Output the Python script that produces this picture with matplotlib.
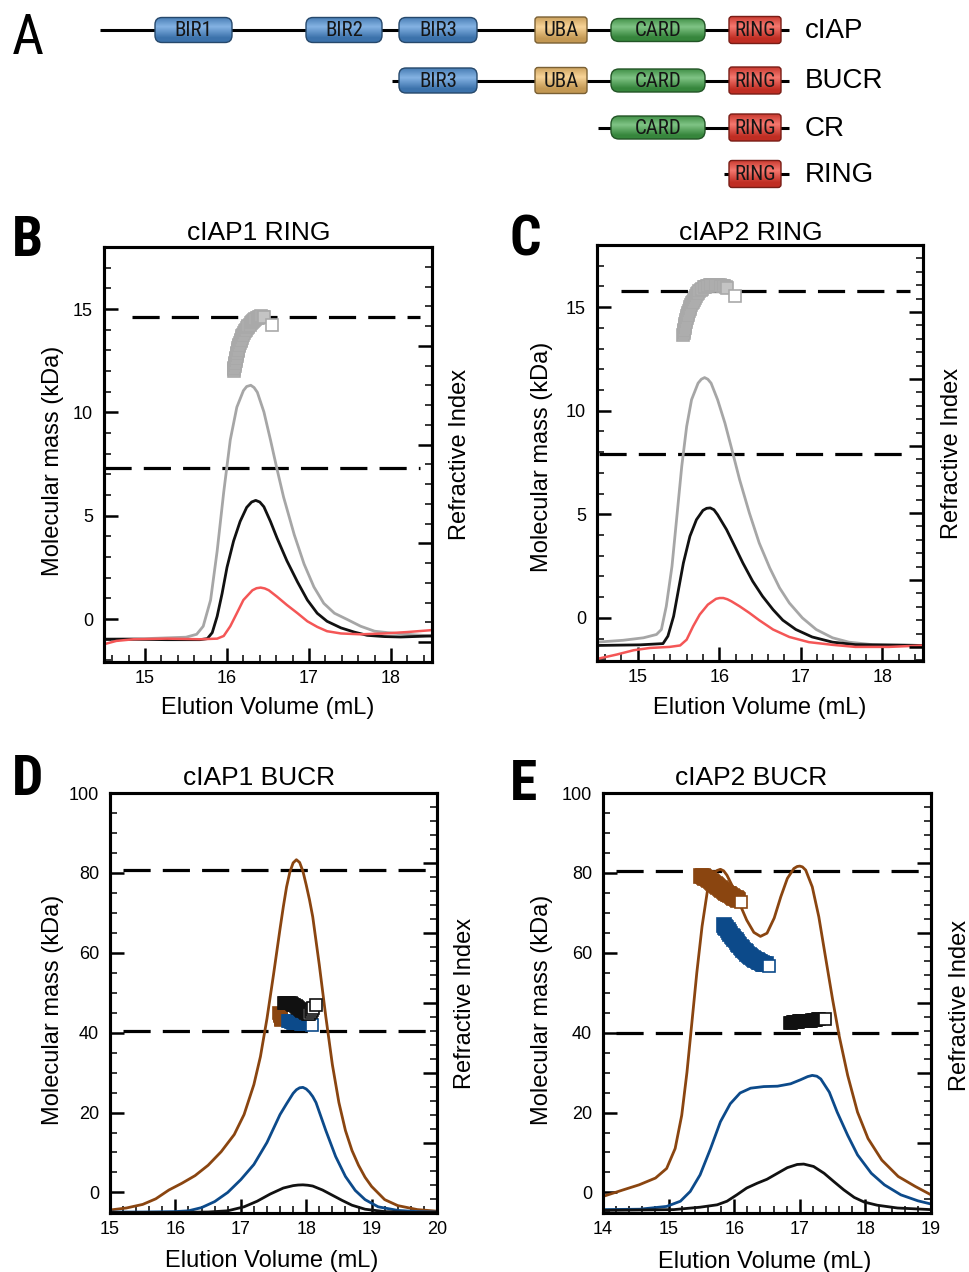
import os
import numpy as np
import matplotlib
matplotlib.use('Agg')
import matplotlib.pyplot as plt
from matplotlib.patches import FancyBboxPatch
from matplotlib.ticker import MultipleLocator
from matplotlib import font_manager as fm
from matplotlib.font_manager import FontProperties

# ---------------------------------------------------------------- data
# Panel A: domain architecture (schematic units along the chain)
constructs = ['cIAP', 'BUCR', 'CR', 'RING']
construct_start = [100, 392, 598, 724]
construct_end = 789
domain_names = ['BIR1', 'BIR2', 'BIR3', 'UBA', 'CARD', 'RING']
domain_start = [155, 306, 399, 535, 611, 729]
domain_end = [232, 382, 477, 587, 705, 781]
domain_in_construct = [[1, 1, 1, 1, 1, 1],
                       [0, 0, 1, 1, 1, 1],
                       [0, 0, 0, 0, 1, 1],
                       [0, 0, 0, 0, 0, 1]]

# Panel B: cIAP1 RING
B_gray_x = [14.5, 15.0, 15.5, 15.63, 15.71, 15.80, 15.88, 15.96, 16.04, 16.12, 16.20, 16.24, 16.29,
            16.33, 16.37, 16.45, 16.53, 16.61, 16.69, 16.82, 16.94, 17.06, 17.18, 17.31, 17.47,
            17.63, 17.80, 17.96, 18.20, 18.49]
B_gray_y = [-0.97, -0.95, -0.88, -0.74, -0.35, 0.92, 3.29, 6.14, 8.67, 10.25, 11.05, 11.25, 11.31,
            11.20, 10.97, 10.02, 8.67, 7.25, 5.90, 4.08, 2.66, 1.55, 0.76, 0.28, -0.03,
            -0.35, -0.59, -0.66, -0.74, -0.82]
B_black_x = [14.5, 14.86, 15.27, 15.67, 15.76, 15.82, 15.88, 15.94, 16.00, 16.08, 16.16, 16.24, 16.30,
             16.35, 16.40, 16.45, 16.53, 16.61, 16.73, 16.86, 16.98, 17.10, 17.22, 17.39, 17.55,
             17.71, 17.92, 18.12, 18.49]
B_black_y = [-0.98, -0.98, -1.0, -1.0, -0.95, -0.66, 0.13, 1.23, 2.50, 3.77, 4.72, 5.40, 5.66,
             5.74, 5.66, 5.43, 4.72, 3.92, 2.82, 1.79, 0.92, 0.28, -0.11, -0.43, -0.63,
             -0.79, -0.85, -0.87, -0.82]
B_red_x = [14.5, 14.65, 14.86, 15.27, 15.67, 15.88, 15.96, 16.04, 16.12, 16.20, 16.31, 16.36, 16.41,
           16.46, 16.51, 16.61, 16.73, 16.86, 16.98, 17.10, 17.22, 17.39, 17.63, 17.92, 18.20, 18.49]
B_red_y = [-1.22, -1.06, -0.98, -0.95, -0.98, -0.95, -0.82, -0.35, 0.28, 0.92, 1.39, 1.49, 1.52,
           1.48, 1.39, 1.08, 0.68, 0.28, -0.11, -0.38, -0.59, -0.70, -0.74, -0.70, -0.63, -0.54]
B_mass_x = [16.080, 16.085, 16.090, 16.095, 16.100, 16.103, 16.106, 16.110, 16.114, 16.118, 16.122,
            16.126, 16.130, 16.135, 16.140, 16.146, 16.152, 16.158, 16.165, 16.172, 16.180, 16.188,
            16.197, 16.206, 16.216, 16.227, 16.238, 16.250, 16.262, 16.275, 16.288, 16.302, 16.316,
            16.330, 16.345, 16.360, 16.375, 16.390, 16.405, 16.420, 16.435, 16.450]
B_mass_y = [12.00, 12.08, 12.16, 12.24, 12.32, 12.40, 12.48, 12.56, 12.64, 12.72, 12.80,
            12.88, 12.96, 13.04, 13.12, 13.20, 13.28, 13.36, 13.44, 13.52, 13.60, 13.68,
            13.76, 13.84, 13.92, 13.99, 14.06, 14.13, 14.19, 14.25, 14.31, 14.37, 14.42,
            14.47, 14.51, 14.55, 14.58, 14.61, 14.63, 14.64, 14.63, 14.61]
B_mass_end = (16.55, 14.24)
B_expected = [14.6, 7.3]

# Panel C: cIAP2 RING
C_gray_x = [14.5, 14.82, 15.07, 15.23, 15.29, 15.35, 15.42, 15.48, 15.54, 15.60, 15.66, 15.74, 15.78,
            15.82, 15.86, 15.90, 15.98, 16.07, 16.15, 16.25, 16.37, 16.49, 16.62, 16.74, 16.86,
            17.02, 17.19, 17.39, 17.59, 17.88, 18.5]
C_gray_y = [-1.17, -1.08, -0.96, -0.80, -0.56, 0.56, 2.49, 4.90, 7.32, 9.24, 10.53, 11.33, 11.52,
            11.60, 11.52, 11.33, 10.53, 9.40, 8.20, 6.67, 5.06, 3.62, 2.41, 1.45, 0.72,
            0.0, -0.56, -0.96, -1.17, -1.29, -1.33]
C_black_x = [14.5, 15.03, 15.31, 15.37, 15.44, 15.50, 15.56, 15.64, 15.72, 15.80, 15.845, 15.89,
             15.935, 15.98, 16.09, 16.19, 16.29, 16.41, 16.53, 16.66, 16.78, 16.94, 17.14, 17.39,
             17.67, 18.5]
C_black_y = [-1.33, -1.30, -1.24, -0.88, 0.08, 1.37, 2.65, 3.94, 4.74, 5.19, 5.29, 5.31,
             5.22, 4.98, 4.26, 3.46, 2.65, 1.77, 1.05, 0.40, -0.11, -0.56, -0.92, -1.17,
             -1.29, -1.33]
C_red_x = [14.5, 14.74, 14.95, 15.15, 15.39, 15.52, 15.60, 15.68, 15.76, 15.86, 15.96, 16.005, 16.05,
           16.10, 16.15, 16.25, 16.37, 16.49, 16.66, 16.86, 17.10, 17.39, 17.67, 18.08, 18.5]
C_red_y = [-1.98, -1.77, -1.56, -1.45, -1.40, -1.33, -1.05, -0.40, 0.16, 0.64, 0.92, 0.96, 0.96,
           0.90, 0.80, 0.56, 0.24, -0.11, -0.56, -0.92, -1.17, -1.30, -1.40, -1.40, -1.33]
C_mass_x = [15.560, 15.563, 15.566, 15.570, 15.574, 15.578, 15.583, 15.588, 15.594, 15.600, 15.606,
            15.613, 15.620, 15.628, 15.636, 15.645, 15.654, 15.664, 15.675, 15.686, 15.698, 15.711,
            15.725, 15.740, 15.756, 15.773, 15.790, 15.808, 15.826, 15.845, 15.864, 15.884, 15.904,
            15.924, 15.944, 15.964, 15.984, 16.004, 16.024, 16.044, 16.064, 16.082, 16.100]
C_mass_y = [13.65, 13.74, 13.83, 13.92, 14.01, 14.10, 14.19, 14.28, 14.37, 14.46, 14.55,
            14.64, 14.73, 14.82, 14.91, 15.00, 15.09, 15.18, 15.27, 15.36, 15.45, 15.54,
            15.62, 15.70, 15.77, 15.84, 15.90, 15.95, 15.99, 16.02, 16.04, 16.05, 16.06,
            16.06, 16.06, 16.06, 16.06, 16.05, 16.04, 16.03, 16.01, 15.98, 15.94]
C_mass_end = (16.19, 15.56)
C_expected = [15.8, 7.9]

# Panel D: cIAP1 BUCR
D_brown_x = [15.0, 15.25, 15.5, 15.7, 15.9, 16.1, 16.3, 16.5, 16.7, 16.9, 17.05, 17.2, 17.3, 17.4,
             17.5, 17.6, 17.65, 17.7, 17.75, 17.8, 17.85, 17.9, 17.95, 18.0, 18.05, 18.1, 18.2,
             18.3, 18.4, 18.5, 18.6, 18.7, 18.8, 18.9, 19.0, 19.2, 19.4, 19.7, 20.0]
D_brown_y = [-4.4, -3.9, -3.0, -1.6, 0.6, 2.3, 4.2, 6.8, 10.2, 14.5, 19.5, 27.0, 34.0, 43.5,
             54.5, 66.0, 71.5, 76.5, 80.2, 82.5, 83.3, 82.6, 80.4, 77.0, 73.3, 69.0, 57.0,
             44.0, 32.0, 22.5, 15.5, 10.5, 6.8, 3.8, 1.5, -1.8, -3.3, -4.3, -4.7]
D_blue_x = [15.0, 15.5, 16.0, 16.2, 16.4, 16.6, 16.8, 17.0, 17.2, 17.4, 17.6, 17.7, 17.75, 17.8,
            17.85, 17.9, 17.95, 18.0, 18.05, 18.1, 18.15, 18.3, 18.45, 18.6, 18.75, 18.9, 19.1,
            19.4, 19.7, 20.0]
D_blue_y = [-4.9, -4.9, -4.8, -4.6, -3.8, -2.3, 0.0, 3.2, 7.0, 12.5, 19.5, 22.2, 23.5, 24.8,
            25.7, 26.2, 26.3, 25.9, 25.1, 24.0, 22.5, 15.5, 9.0, 4.0, 0.5, -1.8, -3.6,
            -4.5, -4.8, -4.9]
D_black_x = [15.0, 16.0, 16.5, 16.8, 17.05, 17.25, 17.45, 17.65, 17.8, 17.875, 17.95, 18.025, 18.1,
             18.25, 18.4, 18.55, 18.7, 18.9, 19.2, 19.6, 20.0]
D_black_y = [-5.0, -5.0, -4.9, -4.6, -3.6, -2.2, -0.4, 1.1, 1.7, 1.85, 1.9, 1.8, 1.6,
             0.6, -0.7, -2.0, -3.2, -4.2, -4.8, -5.0, -5.0]
D_mass_brown_x = [17.59, 17.595, 17.60, 17.605, 17.61, 17.615, 17.62]
D_mass_brown_y = [45.0, 44.7, 44.4, 44.1, 43.8, 43.5, 43.2]
D_mass_blue_x = [17.72, 17.74, 17.76, 17.78, 17.80, 17.82, 17.84, 17.86, 17.88, 17.90, 17.92,
                 17.94, 17.96, 17.98, 18.00]
D_mass_blue_y = [42.9, 42.8, 42.7, 42.6, 42.5, 42.4, 42.4, 42.3, 42.3, 42.3, 42.2,
                 42.2, 42.2, 42.2, 42.1]
D_mass_blue_end = (18.09, 42.0)
D_mass_black_x = [17.66, 17.68, 17.70, 17.72, 17.74, 17.76, 17.78, 17.80, 17.82, 17.84, 17.86,
                  17.88, 17.90, 17.92, 17.94, 17.96, 17.98, 18.00, 18.02]
D_mass_black_y = [47.3, 47.4, 47.5, 47.5, 47.4, 47.3, 47.1, 47.0, 46.8, 46.6, 46.4,
                  46.2, 46.0, 45.7, 45.5, 45.3, 45.1, 44.9, 44.7]
D_mass_black_open_x = [18.05, 18.07, 18.09, 18.11]
D_mass_black_open_y = [44.6, 45.1, 45.6, 46.1]
D_mass_black_end = (18.15, 46.9)
D_expected = [80.6, 40.3]

# Panel E: cIAP2 BUCR
E_brown_x = [14.0, 14.3, 14.55, 14.8, 14.97, 15.1, 15.2, 15.28, 15.35, 15.43, 15.51, 15.59, 15.69,
             15.74, 15.79, 15.84, 15.89, 15.99, 16.09, 16.19, 16.3, 16.4, 16.5, 16.61, 16.71,
             16.81, 16.91, 16.96, 17.0, 17.04, 17.09, 17.19, 17.29, 17.39, 17.5, 17.6, 17.73,
             17.88, 18.04, 18.25, 18.5, 18.76, 19.0]
E_brown_y = [-1.0, 0.6, 1.9, 3.6, 6.0, 11.0, 19.3, 30.1, 41.7, 55.0, 66.6, 75.3, 79.9,
             80.6, 80.9, 80.5, 79.4, 76.1, 72.0, 68.2, 65.1, 64.1, 64.9, 68.7, 74.0,
             78.6, 81.1, 81.6, 81.7, 81.5, 80.7, 76.5, 69.0, 59.1, 48.3, 39.2, 29.3,
             20.1, 13.5, 8.1, 4.0, 1.5, -0.6]
E_blue_x = [14.0, 14.56, 14.97, 15.18, 15.33, 15.48, 15.64, 15.79, 15.94, 16.09, 16.25, 16.45, 16.66,
            16.86, 17.01, 17.12, 17.19, 17.26, 17.32, 17.45, 17.57, 17.73, 17.88, 18.09, 18.29,
            18.54, 18.80, 19.0]
E_blue_y = [-4.3, -4.2, -3.5, -2.2, 0.25, 4.4, 11.0, 17.7, 22.2, 24.9, 26.1, 26.5, 26.6,
            27.2, 28.2, 29.0, 29.3, 29.1, 28.4, 25.1, 20.1, 14.3, 9.4, 4.8, 1.9,
            -0.6, -2.1, -2.9]
E_black_x = [14.0, 15.08, 15.48, 15.74, 15.89, 16.04, 16.19, 16.35, 16.50, 16.66, 16.81, 16.96,
             17.06, 17.21, 17.37, 17.52, 17.67, 17.83, 17.98, 18.18, 18.49, 19.0]
E_black_y = [-4.5, -4.3, -3.7, -3.1, -2.2, -0.6, 1.1, 2.3, 3.3, 4.8, 6.2, 7.0,
             7.1, 6.5, 4.8, 2.7, 0.65, -1.25, -2.4, -3.2, -3.9, -4.3]
E_mass_brown_x = [15.50, 15.52, 15.54, 15.56, 15.58, 15.60, 15.62, 15.64, 15.66, 15.68, 15.70,
                  15.72, 15.74, 15.76, 15.78, 15.80, 15.82, 15.84, 15.86, 15.88, 15.90, 15.92,
                  15.94, 15.96, 15.98, 16.00, 16.02, 16.04, 16.06]
E_mass_brown_y = [79.3, 79.2, 79.0, 78.8, 78.6, 78.4, 78.2, 78.0, 77.7, 77.5, 77.2,
                  77.0, 76.7, 76.5, 76.2, 76.0, 75.7, 75.5, 75.2, 75.0, 74.8, 74.6,
                  74.4, 74.2, 74.0, 73.8, 73.6, 73.4, 73.3]
E_mass_brown_end = (16.11, 72.6)
E_mass_blue_x = [15.84, 15.86, 15.88, 15.90, 15.92, 15.94, 15.96, 15.98, 16.00, 16.02, 16.04,
                 16.06, 16.08, 16.10, 16.12, 16.14, 16.16, 16.18, 16.20, 16.22, 16.24, 16.26,
                 16.28, 16.30, 16.32, 16.34, 16.36, 16.38, 16.40, 16.42, 16.44, 16.46, 16.48]
E_mass_blue_y = [67.0, 66.5, 66.1, 65.6, 65.1, 64.7, 64.3, 63.9, 63.5, 63.1, 62.7,
                 62.3, 61.9, 61.5, 61.1, 60.7, 60.4, 60.1, 59.8, 59.5, 59.3, 59.0,
                 58.8, 58.5, 58.3, 58.1, 57.9, 57.7, 57.6, 57.4, 57.3, 57.2, 57.1]
E_mass_blue_end = (16.53, 56.8)
E_mass_black_x = [16.85, 16.87, 16.89, 16.91, 16.93, 16.95, 16.97, 16.99, 17.01, 17.03, 17.05,
                  17.07, 17.09, 17.11, 17.13, 17.15, 17.17, 17.19, 17.21, 17.23, 17.25, 17.27, 17.29]
E_mass_black_y = [42.5, 42.5, 42.6, 42.6, 42.6, 42.7, 42.7, 42.8, 42.8, 42.8, 42.8,
                  42.9, 42.9, 43.0, 43.0, 43.0, 43.0, 43.1, 43.1, 43.2, 43.2, 43.3, 43.3]
E_mass_black_end = (17.38, 43.3)
E_expected = [80.5, 40.0]

# ---------------------------------------------------------------- figure
W, H = 969, 1272
plt.rcParams['font.family'] = ['Liberation Sans', 'DejaVu Sans']
fig = plt.figure(figsize=(W / 100, H / 100), dpi=100)


def fx(x):
    return x / W


def fy(y):
    return 1 - y / H


_files = {os.path.basename(f.fname): f.fname for f in fm.fontManager.ttflist}


def cond_font(bold, size):
    names = (['LiberationSansNarrow-Bold.ttf', 'RobotoCondensed-Bold.ttf',
              'DejaVuSansCondensed-Bold.ttf', 'NotoSans-CondensedBold.ttf']
             if bold else
             ['LiberationSansNarrow-Regular.ttf', 'RobotoCondensed-Regular.ttf',
              'DejaVuSansCondensed.ttf', 'NotoSans-Condensed.ttf'])
    for n in names:
        if n in _files:
            fp = FontProperties(fname=_files[n])
            fp.set_size(size)
            return fp
    return FontProperties(family='Liberation Sans', weight='bold' if bold else 'normal', size=size * 0.85)


# ---------------- Panel A
axA = fig.add_axes([0, fy(200), 1, 200 / H])
axA.set_xlim(0, W)
axA.set_ylim(200, 0)
axA.axis('off')

row_y = [30, 80.5, 127.5, 174]
dom_color = {'BIR': '#4b8fd6', 'UBA': '#f4bf68', 'CARD': '#44a84c', 'RING': '#f0392c'}
dom_h = {'BIR': 25, 'UBA': 26, 'CARD': 23, 'RING': 27}
dom_r = {'BIR': 7, 'UBA': 3, 'CARD': 8, 'RING': 3}
fp_dom = cond_font(False, 15)
t = np.linspace(0, 1, 80)
hi = np.clip(1 - np.abs(t - 0.38) / 0.45, 0, 1)

for ci, cname in enumerate(constructs):
    yc = row_y[ci]
    axA.plot([construct_start[ci], construct_end], [yc, yc], color='black', lw=2.2, zorder=1,
             solid_capstyle='butt')
    for di, dname in enumerate(domain_names):
        if not domain_in_construct[ci][di]:
            continue
        key = dname.rstrip('123')
        base = np.array(matplotlib.colors.to_rgb(dom_color[key]))
        h = dom_h[key]
        x0, x1 = domain_start[di], domain_end[di]
        patch = FancyBboxPatch((x0, yc - h / 2), x1 - x0, h,
                               boxstyle='round,pad=0,rounding_size=%g' % dom_r[key],
                               facecolor='none', edgecolor=base * 0.5, lw=1.0, zorder=3)
        axA.add_patch(patch)
        grad = base[None, :] * (0.80 + 0.20 * hi[:, None]) + (1 - base[None, :]) * 0.32 * hi[:, None]
        im = axA.imshow(np.clip(grad, 0, 1)[:, None, :], extent=(x0, x1, yc + h / 2, yc - h / 2),
                        aspect='auto', interpolation='bilinear', zorder=2)
        im.set_clip_path(patch)
        axA.text((x0 + x1) / 2, yc + 1, dname, ha='center', va='center', fontproperties=fp_dom,
                 color='#151515', zorder=4)
    axA.text(805, yc + 8, cname, ha='left', va='baseline', fontsize=20)

fig.text(fx(12), fy(54), 'A', fontproperties=cond_font(False, 40), ha='left', va='baseline')


# ---------------- chart panels
def make_panel(rect, xlim, ylim, xmaj, ymaj, ymin, twin_lim):
    ax = fig.add_axes(rect)
    ax.set_xlim(*xlim)
    ax.set_ylim(*ylim)
    ax.xaxis.set_major_locator(MultipleLocator(xmaj))
    ax.xaxis.set_minor_locator(MultipleLocator(0.2))
    ax.yaxis.set_major_locator(MultipleLocator(ymaj))
    ax.yaxis.set_minor_locator(MultipleLocator(ymin))
    ax.tick_params(which='both', direction='in', top=False, right=False, labelsize=13, colors='black')
    ax.tick_params(which='major', length=10, width=1.8)
    ax.tick_params(which='minor', length=5, width=1.1)
    ax.tick_params(axis='y', pad=8)
    ax.tick_params(axis='x', pad=6)
    for s in ax.spines.values():
        s.set_linewidth(2.2)
    ax2 = ax.twinx()
    ax2.set_ylim(*twin_lim)
    ax2.yaxis.set_major_locator(MultipleLocator(1))
    ax2.yaxis.set_minor_locator(MultipleLocator(0.2))
    ax2.tick_params(which='both', direction='in', labelright=False)
    ax2.tick_params(which='major', length=10, width=1.8)
    ax2.tick_params(which='minor', length=5, width=1.1)
    for s in ax2.spines.values():
        s.set_linewidth(2.2)
    return ax


def expected_lines(ax, vals, starts, end):
    for v, s in zip(vals, starts):
        ax.plot([s, end], [v, v], color='black', lw=2.3, ls=(0, (8.5, 3.8)), zorder=2,
                solid_capstyle='butt', dash_capstyle='butt')


def mass_points(ax, xs, ys, color, face, ms=8.5, z=5, mew=1.2):
    ax.plot(xs, ys, ls='none', marker='s', ms=ms, mfc=face, mec=color, mew=mew, zorder=z)


GRAY, RED, BLACK = '#a6a6a6', '#f45656', '#111111'
BROWN, BLUE = '#8a4510', '#0c4a8a'

# B
axB = make_panel([fx(104), fy(662), 328 / W, 415 / H], (14.5, 18.5), (-2.08, 18.0), 1, 5, 1, (-0.2, 4.0))
expected_lines(axB, B_expected, [14.84, 14.5], 18.35)
axB.plot(B_gray_x, B_gray_y, color=GRAY, lw=2.0, zorder=3)
axB.plot(B_black_x, B_black_y, color=BLACK, lw=2.0, zorder=3)
axB.plot(B_red_x, B_red_y, color=RED, lw=1.8, zorder=3)
mass_points(axB, B_mass_x, B_mass_y, '#a9a9a9', '#c4c4c4', ms=8)
mass_points(axB, [B_mass_end[0]], [B_mass_end[1]], '#a9a9a9', 'white', ms=8)

# C
axC = make_panel([fx(597), fy(661), 326 / W, 416 / H], (14.5, 18.5), (-2.08, 18.0), 1, 5, 1, (-0.21, 6.0))
expected_lines(axC, C_expected, [14.8, 14.53], 18.34)
axC.plot(C_gray_x, C_gray_y, color=GRAY, lw=2.0, zorder=3)
axC.plot(C_black_x, C_black_y, color=BLACK, lw=2.0, zorder=3)
axC.plot(C_red_x, C_red_y, color=RED, lw=1.8, zorder=3)
mass_points(axC, C_mass_x, C_mass_y, '#a9a9a9', '#c4c4c4', ms=8)
mass_points(axC, [C_mass_end[0]], [C_mass_end[1]], '#a9a9a9', 'white', ms=8)

# D
axD = make_panel([fx(110), fy(1213), 327 / W, 420 / H], (15, 20), (-5.15, 100), 1, 20, 5, (0, 6))
expected_lines(axD, D_expected, [15.2, 15.2], 20.0)
axD.plot(D_brown_x, D_brown_y, color=BROWN, lw=2.0, zorder=3)
axD.plot(D_blue_x, D_blue_y, color=BLUE, lw=2.0, zorder=3)
axD.plot(D_black_x, D_black_y, color=BLACK, lw=2.0, zorder=3)
mass_points(axD, D_mass_brown_x, D_mass_brown_y, BROWN, BROWN)
mass_points(axD, D_mass_blue_x, D_mass_blue_y, BLUE, BLUE)
mass_points(axD, [D_mass_blue_end[0]], [D_mass_blue_end[1]], BLUE, 'white')
mass_points(axD, D_mass_black_x, D_mass_black_y, BLACK, BLACK)
mass_points(axD, D_mass_black_open_x, D_mass_black_open_y, BLACK, 'white')
mass_points(axD, [D_mass_black_end[0]], [D_mass_black_end[1]], BLACK, 'white')

# E
axE = make_panel([fx(603), fy(1213), 328 / W, 420 / H], (14, 19), (-5.15, 100), 1, 20, 5, (0, 6))
expected_lines(axE, E_expected, [14.2, 14.2], 19.0)
axE.plot(E_brown_x, E_brown_y, color=BROWN, lw=2.0, zorder=3)
axE.plot(E_blue_x, E_blue_y, color=BLUE, lw=2.0, zorder=3)
axE.plot(E_black_x, E_black_y, color=BLACK, lw=2.0, zorder=3)
mass_points(axE, E_mass_brown_x, E_mass_brown_y, BROWN, BROWN, ms=10)
mass_points(axE, [E_mass_brown_end[0]], [E_mass_brown_end[1]], BROWN, 'white')
mass_points(axE, E_mass_blue_x, E_mass_blue_y, BLUE, BLUE, ms=10)
mass_points(axE, [E_mass_blue_end[0]], [E_mass_blue_end[1]], BLUE, 'white')
mass_points(axE, E_mass_black_x, E_mass_black_y, BLACK, BLACK, ms=9)
mass_points(axE, [E_mass_black_end[0]], [E_mass_black_end[1]], BLACK, 'white')

# ---------------- texts
LAB = 17
panels = [
    # letter, letter xy, title, title xy, left label xy, right label xy, x label xy
    ('B', (12, 256), 'cIAP1 RING', (259, 240), (53, 461), (460, 454), (268, 714)),
    ('C', (510, 256), 'cIAP2 RING', (751, 240), (542, 457), (952, 453), (760, 714)),
    ('D', (12, 795), 'cIAP1 BUCR', (259, 785), (53, 1010), (465, 1003), (272, 1267)),
    ('E', (510, 800), 'cIAP2 BUCR', (751, 785), (542, 1010), (960, 1005), (765, 1268)),
]
fp_letter = cond_font(True, 40)
for letter, lxy, title, txy, ylxy, yrxy, xlxy in panels:
    fig.text(fx(lxy[0]), fy(lxy[1]), letter, fontproperties=fp_letter, ha='left', va='baseline')
    fig.text(fx(txy[0]), fy(txy[1]), title, fontsize=19, ha='center', va='baseline')
    fig.text(fx(ylxy[0]), fy(ylxy[1]), 'Molecular mass (kDa)', fontsize=LAB, rotation=90,
             ha='center', va='center')
    fig.text(fx(yrxy[0]), fy(yrxy[1]), 'Refractive Index', fontsize=LAB, rotation=90,
             ha='center', va='center')
    fig.text(fx(xlxy[0]), fy(xlxy[1]), 'Elution Volume (mL)', fontsize=LAB, ha='center', va='baseline')

fig.savefig('out.png', dpi=100)
